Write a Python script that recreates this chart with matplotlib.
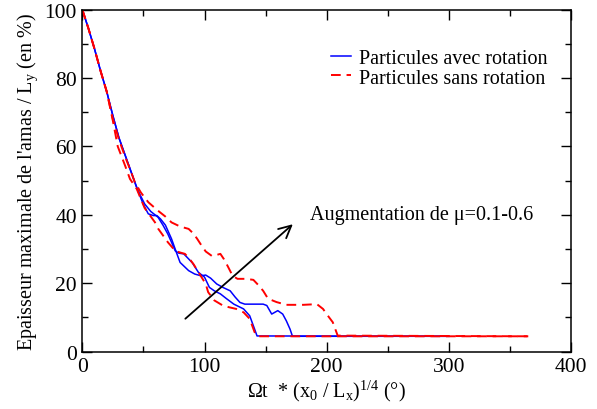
import matplotlib
matplotlib.use("Agg")
import matplotlib.pyplot as plt
from matplotlib.ticker import MultipleLocator

plt.rcParams["font.family"] = ["Liberation Serif", "DejaVu Serif"]
plt.rcParams["mathtext.fontset"] = "custom"
plt.rcParams["mathtext.rm"] = "Liberation Serif"
plt.rcParams["mathtext.it"] = "Liberation Serif"

# courbes avec rotation (bleu)
x_rot_a = [0, 5, 10, 15, 20, 25, 30, 35, 40, 46, 50, 54, 58, 61, 64, 68, 73, 76, 80, 87, 92, 97,
           101, 105, 110, 115, 121, 125, 129, 133, 140, 148, 151, 155, 160, 164, 167, 170, 172, 300]
y_rot_a = [100, 94.5, 88.5, 82, 76, 69, 62.5, 57.5, 52.5, 46.6, 43, 40.3, 39.8, 39.8, 38.8, 37, 33, 30, 26.1, 23.7, 22.7, 22.2,
           22.4, 21.5, 19.8, 18.8, 17.8, 16, 14.4, 13.9, 13.9, 13.9, 13.5, 11, 12, 11, 9, 6.6, 4.5, 4.5]

x_rot_b = [0, 5, 10, 15, 20, 25, 30, 35, 40, 45, 51, 56, 62, 66, 70, 73, 76, 79, 83, 86, 90, 95,
           100, 104, 108, 113, 118, 124, 128, 132, 137, 141, 143, 300]
y_rot_b = [100, 94.5, 88.5, 82, 76, 69, 62.5, 57.5, 52.5, 47.5, 43.2, 41, 39.3, 37, 34.4, 32, 29.5, 28.8, 28.6, 27.5, 26, 23.2,
           21.8, 18.8, 17.8, 16.9, 15.5, 13.9, 13.2, 12.5, 10.5, 6.6, 4.6, 4.5]

# courbes sans rotation (rouge)
x_srot_a = [0, 5, 10, 15, 20, 25, 29, 35, 39, 44.5, 51, 59.5, 62, 66, 70, 76, 80, 84, 88, 91, 96,
            101, 103, 108, 115, 120, 126, 132, 137, 141, 144, 365]
y_srot_a = [100, 94.5, 88.5, 82, 76, 67.5, 60, 54.4, 50.5, 47.6, 42, 37.8, 36, 34, 32, 29.5, 29, 28.6, 27, 25.6, 22.7,
            19.8, 17.4, 15, 13.5, 13, 12.5, 11.5, 9.6, 5.7, 4.5, 4.5]

x_srot_b = [0, 5, 10, 15, 20, 25, 30, 35, 40, 43, 48, 54, 62, 68, 73, 80, 87, 91, 94, 98, 101, 106,
            110, 113, 116, 119, 123, 127, 134, 140, 144, 148, 152, 159, 167, 181, 192, 197, 201, 205, 209, 365]
y_srot_b = [100, 94.5, 88.5, 82, 76, 68, 62, 57, 52.5, 49.5, 46.5, 43.7, 41.2, 39.5, 37.8, 36.6, 35.9, 34.5, 33, 30.8, 29.3, 28,
            28.3, 28.6, 27, 25, 22.2, 21.3, 21.3, 21, 19.5, 17.8, 15.5, 14.5, 13.7, 13.7, 13.9, 12.5, 10.5, 8.6, 4.7, 4.5]

fig = plt.figure(figsize=(5.97, 4.10), dpi=100)
ax = fig.add_axes([0.1379, 0.1398, 0.8186, 0.8342])

blue = "#0000ff"
red = "#ff0000"
ax.plot(x_rot_a, y_rot_a, color=blue, lw=1.1, label="Particules avec rotation")
ax.plot(x_rot_b, y_rot_b, color=blue, lw=1.1)
ax.plot(x_srot_a, y_srot_a, color=red, lw=1.4, dashes=(5, 3), label="Particules sans rotation")
ax.plot(x_srot_b, y_srot_b, color=red, lw=1.4, dashes=(5, 3))

ax.set_xlim(0, 400)
ax.set_ylim(0, 100)
ax.xaxis.set_major_locator(MultipleLocator(100))
ax.xaxis.set_minor_locator(MultipleLocator(50))
ax.yaxis.set_major_locator(MultipleLocator(20))
ax.yaxis.set_minor_locator(MultipleLocator(10))
ax.tick_params(which="both", direction="in", top=True, right=True, labelsize=15.5, width=1.0)
ax.tick_params(which="major", length=7)
ax.tick_params(which="minor", length=4)
ax.tick_params(axis="x", pad=4)
ax.tick_params(axis="y", pad=4)
for sp in ax.spines.values():
    sp.set_linewidth(1.1)

ax.set_xlabel("Ωt  * (x$_{0}$ / L$_{\\mathrm{x}}$)$^{1/4}$ (°)", fontsize=14.5, labelpad=1)
ax.set_ylabel("Epaisseur maximale de l'amas / L$_{\\mathrm{y}}$ (en %)", fontsize=14.5, labelpad=3)

ax.legend(loc="upper left", bbox_to_anchor=(0.508, 0.884), frameon=False, fontsize=14.5,
          handlelength=1.0, handletextpad=0.4, labelspacing=0.0, borderpad=0, borderaxespad=0)

# fleche augmentation de mu
ax.annotate("", xy=(174, 37.8), xytext=(82.6, 9.1),
            arrowprops=dict(arrowstyle="->", lw=1.3, color="black", mutation_scale=22))
ax.text(186, 40, "Augmentation de μ=0.1-0.6", fontsize=14.5, va="center", ha="left")

fig.savefig("out.png", dpi=100)
